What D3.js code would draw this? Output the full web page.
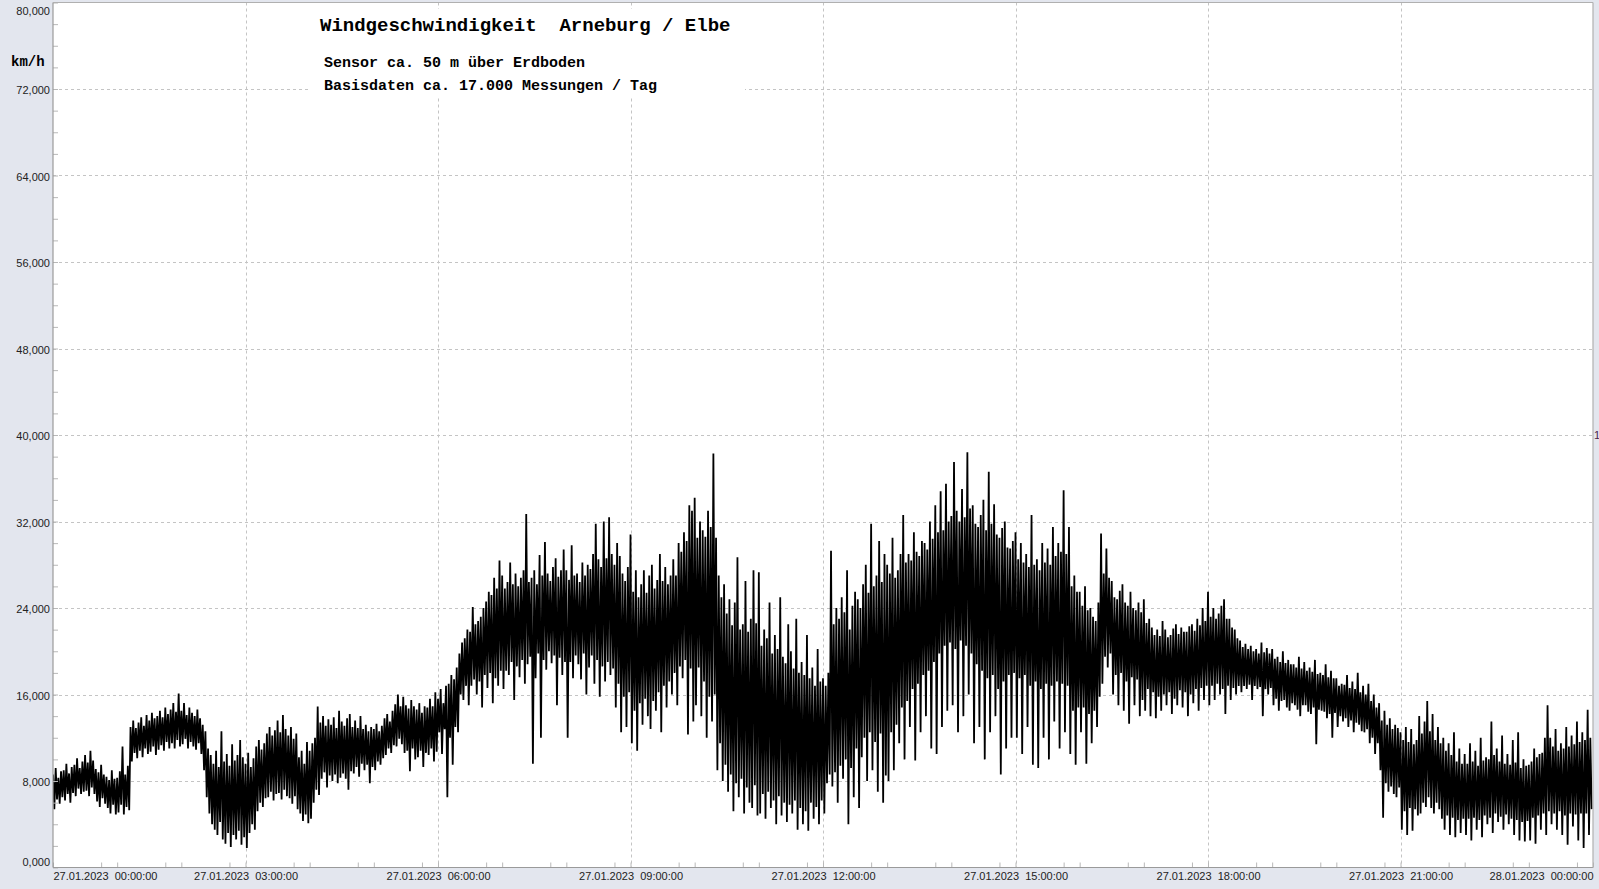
<!DOCTYPE html>
<html><head><meta charset="utf-8">
<script src="https://cdn.jsdelivr.net/npm/d3@7"></script>
<style>html,body{margin:0;padding:0;background:#e3e6ee;overflow:hidden}</style>
</head><body><svg id="c" width="1599" height="889"></svg>
<script>
// ---------- data ----------
const title = "Windgeschwindigkeit  Arneburg / Elbe";
const subtitles = ["Sensor ca. 50 m über Erdboden", "Basisdaten ca. 17.000 Messungen / Tag"];
const unitLabel = "km/h";
const rightLabel = "1";
const startTime = "2023-01-27T00:00:00Z";
const endTime = "2023-01-28T00:00:00Z";
const yTicks = [0, 8, 16, 24, 32, 40, 48, 56, 64, 72, 80];
const yMinorStep = 2;          // km/h
const xMajorHours = 3;
const xMinorMinutes = 45;
const binMinutes = 2.5;        // one max/min pair per 2.5 minutes

// maximum per 2.5-minute bin, km/h (one row = one hour)
const binMax = [
 8.6,9.2,8.3,8.9,9.0,9.6,8.7,9.3,9.5,10.1,9.2,9.8,10.4,9.7,10.8,9.9,9.1,8.8,9.5,8.6,8.4,8.1,9.0,8.2,
 8.3,8.9,11.2,8.6,9.4,13.0,13.6,12.9,13.4,13.9,13.1,14.1,13.6,14.3,13.8,14.0,14.5,13.9,14.8,14.2,14.6,15.2,14.4,16.1,
 14.5,15.2,14.1,14.8,14.3,14.0,14.6,13.8,13.2,12.6,11.0,10.4,9.6,10.8,9.3,12.6,9.8,10.5,9.4,11.4,9.9,10.4,11.8,10.2,
 9.6,10.6,9.3,10.1,11.2,11.8,10.9,11.5,12.4,13.0,12.2,12.7,13.6,12.5,14.1,12.8,12.2,13.0,11.9,12.4,10.2,10.8,9.6,11.6,
 10.8,11.5,12.0,14.9,13.4,14.0,13.1,13.7,13.2,13.9,12.9,14.5,13.5,13.1,13.8,14.2,13.0,13.6,12.9,14.0,12.8,13.2,12.6,13.0,
 12.8,13.3,12.6,13.1,13.8,14.2,13.5,14.5,15.1,16.0,14.9,15.8,15.0,14.7,15.5,14.9,14.6,15.2,14.3,14.9,14.8,15.6,14.9,16.2,
 15.6,16.5,15.2,16.8,17.0,17.8,17.4,18.5,19.8,20.8,21.2,22.0,21.8,24.1,22.5,22.8,23.2,24.0,24.6,25.5,25.2,26.8,25.8,28.4,
 27.0,25.8,26.4,28.2,26.2,27.2,26.0,26.8,27.5,32.7,26.4,26.8,27.5,26.2,28.9,27.0,30.1,27.2,26.5,27.8,28.6,26.9,27.5,29.4,
 27.5,26.6,29.8,27.0,27.2,26.4,28.2,27.0,28.0,27.6,29.0,31.8,28.5,27.8,32.0,28.6,32.4,29.0,28.0,30.0,28.8,27.2,26.5,27.8,
 30.8,25.5,27.5,25.0,26.2,27.5,25.4,27.0,28.0,25.8,26.6,29.0,26.5,27.8,26.2,27.0,28.5,27.0,30.0,29.2,31.0,30.2,33.5,33.0,
 34.2,30.5,32.0,31.2,30.6,33.0,31.5,38.3,30.5,27.0,25.0,26.2,23.5,24.8,22.4,24.5,28.7,22.0,22.5,26.5,21.8,23.0,27.5,22.6,
 27.3,20.5,22.0,21.2,24.5,19.8,21.5,20.2,25.0,19.5,18.9,22.5,20.0,18.4,23.0,18.0,19.0,17.8,21.5,17.5,18.5,16.8,20.2,17.2,
 17.5,16.8,18.0,29.3,22.5,24.0,23.0,25.0,23.6,27.5,22.0,24.2,25.5,24.8,24.0,26.2,28.0,25.4,31.8,26.0,27.0,30.2,26.4,29.0,
 28.0,27.2,30.5,26.8,27.5,29.0,32.6,28.2,29.0,28.4,31.0,29.2,28.8,30.2,30.0,29.4,32.0,30.4,33.5,31.0,34.8,31.2,35.5,32.0,
 32.5,37.5,33.0,32.0,35.0,32.4,38.4,33.2,33.5,31.8,31.5,32.6,34.0,31.2,36.6,31.8,33.6,30.8,30.5,31.4,32.0,29.6,29.5,30.2,
 31.0,28.5,30.0,28.2,29.0,27.8,32.6,28.0,28.5,27.5,30.0,28.2,29.5,28.0,31.5,28.8,30.0,29.2,34.9,29.0,31.5,26.0,27.0,25.5,
 25.5,24.2,26.0,23.8,24.0,23.2,22.8,24.5,30.9,27.2,29.5,26.8,26.5,25.0,24.8,25.6,26.2,24.5,24.2,25.5,24.0,23.8,24.5,23.6,
 24.8,22.6,23.0,22.2,21.5,22.0,21.4,22.8,22.0,21.3,21.5,22.1,22.5,21.6,22.2,21.8,21.8,22.3,22.5,21.9,23.0,22.4,24.0,22.8,
 25.5,23.2,24.0,23.0,23.5,24.2,24.8,23.0,23.0,22.2,22.0,21.2,21.0,20.4,20.7,20.2,20.5,20.0,20.2,19.8,20.8,19.9,20.3,19.8,
 20.2,19.3,19.5,19.0,20.0,18.9,19.2,18.8,18.8,18.5,19.5,18.4,19.0,18.2,18.5,18.1,19.2,17.9,18.0,17.8,18.8,17.6,18.2,17.5,
 17.5,16.8,17.0,16.9,17.8,16.6,17.2,16.5,18.0,16.2,16.8,16.0,17.0,15.4,16.0,14.8,15.2,13.6,14.5,13.2,13.8,12.8,13.2,12.9,
 12.5,11.8,13.0,11.6,12.8,11.4,11.8,14.0,12.4,13.5,15.4,12.6,14.2,11.8,13.0,11.5,12.0,10.8,11.5,10.4,12.5,9.8,11.0,9.6,
 10.5,9.6,11.5,9.8,10.8,9.4,12.0,9.9,10.2,10.0,13.5,10.4,11.0,9.8,12.2,9.6,10.5,9.5,11.8,9.7,12.5,9.2,10.0,9.4,
 9.5,9.8,11.0,10.2,10.5,10.6,12.0,15.0,12.0,11.2,12.8,10.8,11.5,11.0,13.0,11.2,12.2,11.4,13.5,11.6,12.5,11.8,14.6,12.0
];
// minimum per 2.5-minute bin, km/h (one row = one hour)
const binMin = [
 5.4,6.3,5.9,6.5,6.2,6.8,6.0,6.9,6.6,7.3,6.8,7.0,7.1,6.6,7.4,6.8,6.1,5.6,6.4,5.9,5.5,5.0,5.8,4.9,
 5.1,5.8,4.9,5.6,5.3,9.8,10.6,10.1,10.8,10.2,11.0,10.5,10.7,11.2,10.4,10.9,11.3,10.8,11.6,11.0,11.5,11.0,11.8,11.2,
 11.4,11.9,11.0,11.6,11.2,10.9,11.5,10.5,9.0,6.5,5.0,4.0,3.5,3.0,4.2,2.6,2.2,3.2,1.9,3.0,2.6,3.4,2.1,2.8,
 1.8,3.2,4.0,3.5,5.2,6.0,5.6,6.4,6.5,7.0,6.2,6.8,6.9,6.3,7.2,6.6,6.4,5.9,6.6,5.4,5.0,4.3,4.9,4.1,
 4.5,6.0,7.2,6.7,8.2,8.8,7.4,8.5,8.0,8.6,7.8,8.3,8.7,8.2,7.2,8.9,8.7,9.3,8.4,9.6,9.0,9.5,7.8,9.3,
 9.0,9.8,9.5,10.1,10.4,11.0,10.6,11.3,11.2,11.9,11.4,10.6,10.8,8.9,11.0,10.0,10.2,10.8,9.3,10.6,10.4,11.0,9.8,10.7,
 12.5,10.5,12.8,6.5,12.0,9.5,13.0,12.5,16.0,15.5,16.8,15.0,16.8,17.4,16.0,17.2,14.8,17.8,16.6,18.0,15.2,17.5,16.8,18.2,
 16.5,18.2,17.8,19.0,15.5,18.6,17.6,19.2,17.0,18.8,19.5,9.6,17.5,19.8,12.0,19.2,18.3,20.0,18.9,19.6,15.0,19.4,17.8,19.0,
 12.0,19.0,17.5,19.6,18.8,17.4,19.8,16.0,18.5,19.6,17.0,19.2,15.8,18.6,17.2,19.0,17.8,18.4,14.8,17.0,12.5,15.8,13.0,16.2,
 11.5,14.5,10.8,15.2,13.2,15.6,14.0,12.8,15.4,14.5,16.2,12.5,16.8,14.8,17.2,16.0,18.0,15.0,18.6,17.5,19.2,12.3,18.4,13.5,
 15.0,18.5,14.0,17.2,12.0,15.8,13.5,16.0,9.0,11.5,8.0,9.5,7.0,8.6,5.2,7.8,6.5,8.2,5.0,7.4,6.0,5.5,7.6,4.8,
 5.0,6.8,4.5,7.0,5.5,6.2,4.0,6.6,4.8,6.0,4.2,5.8,5.0,6.2,3.5,5.5,4.0,5.2,3.4,6.0,4.5,5.6,4.0,6.2,
 5.0,7.8,8.6,7.5,8.8,6.0,9.4,8.2,10.0,4.0,9.2,6.5,11.0,5.5,10.2,12.0,8.0,12.5,9.0,11.6,7.0,12.4,6.0,8.5,
 8.0,12.5,9.0,13.2,11.5,14.8,10.0,15.4,13.0,16.5,9.9,17.0,12.5,17.8,14.0,18.2,11.0,19.0,10.5,19.8,13.0,20.5,14.5,20.8,
 15.0,20.2,12.5,21.0,14.0,20.5,16.0,19.8,11.5,18.8,13.0,18.2,10.0,17.5,12.5,17.8,14.0,16.5,8.6,17.2,11.0,17.8,12.0,18.0,
 12.0,17.5,10.5,17.8,13.0,16.8,9.5,17.2,9.2,16.5,12.0,17.0,10.0,16.8,13.5,17.2,11.0,17.0,12.5,16.8,10.5,14.5,9.5,14.8,
 12.5,14.8,9.6,14.2,11.5,14.5,13.0,15.8,17.0,19.5,18.5,19.8,16.0,17.8,15.0,18.0,14.5,17.2,13.3,17.6,15.0,17.4,14.0,15.5,
 14.5,16.5,14.0,16.2,13.8,15.8,14.5,16.0,15.0,16.2,14.2,15.6,15.0,16.4,14.8,16.2,14.0,16.0,15.2,16.5,14.5,16.6,15.5,16.8,
 15.0,16.8,15.5,17.0,16.0,16.5,14.2,16.8,15.5,16.6,16.0,16.8,16.2,16.8,16.5,16.9,15.5,16.8,16.5,16.7,14.0,16.5,16.0,16.6,
 15.0,15.6,14.5,15.4,15.5,14.8,14.5,15.2,15.0,14.6,14.0,15.0,15.0,14.4,14.2,14.8,11.4,14.6,14.5,14.4,13.8,14.2,12.0,14.3,
 13.0,14.0,13.5,13.8,13.0,13.6,12.5,13.4,13.2,12.6,12.5,12.8,11.5,12.0,10.5,11.5,9.0,4.6,7.8,7.0,7.5,6.8,6.5,7.4,
 3.5,5.2,3.0,5.5,3.4,5.4,4.8,5.0,6.0,5.6,6.5,5.5,5.0,6.0,5.4,4.5,3.5,4.8,3.0,4.6,2.8,4.4,3.2,4.5,
 3.0,4.5,2.5,4.6,3.5,4.4,2.8,4.8,4.0,4.6,3.2,5.0,4.2,4.7,3.5,4.9,4.0,4.5,3.0,4.4,2.5,4.2,2.4,4.3,
 2.5,4.6,2.2,4.8,3.5,5.0,3.0,5.2,4.0,5.0,3.5,5.2,3.0,4.8,2.1,5.0,3.8,4.9,2.5,5.0,1.8,5.0,3.0,5.4
];

// ---------- chart ----------
const W = 1599, H = 889;
const M = {left: 53, right: 1593, top: 2.5, bottom: 867.5};
const svg = d3.select("#c");
const t0 = new Date(startTime), t1 = new Date(endTime);
const x = d3.scaleUtc().domain([t0, t1]).range([M.left, M.right]);
const y = d3.scaleLinear().domain([0, 80]).range([M.bottom, M.top]);
const minute = 60000;

svg.append("rect").attr("width", W).attr("height", H).attr("fill", "#e3e6ee");
svg.append("rect").attr("x", M.left).attr("y", M.top).attr("width", M.right - M.left)
   .attr("height", M.bottom - M.top).attr("fill", "#fff");

// grid
const grid = svg.append("g").attr("stroke", "#c4c4c4").attr("stroke-dasharray", "3,3").attr("stroke-width", 1);
grid.selectAll("line.h").data(yTicks.filter(v => v > 0 && v < 80)).join("line")
  .attr("x1", M.left).attr("x2", M.right)
  .attr("y1", d => Math.round(y(d)) + 0.5).attr("y2", d => Math.round(y(d)) + 0.5);
const majorTimes = d3.utcHour.every(xMajorHours).range(t0, new Date(+t1 + 1));
grid.selectAll("line.v").data(majorTimes.filter(d => +d > +t0 && +d < +t1)).join("line")
  .attr("y1", M.top).attr("y2", M.bottom)
  .attr("x1", d => Math.round(x(d)) + 0.5).attr("x2", d => Math.round(x(d)) + 0.5);

// data
const clipId = "plotclip";
svg.append("clipPath").attr("id", clipId).append("rect")
  .attr("x", M.left).attr("y", M.top).attr("width", M.right - M.left).attr("height", M.bottom - M.top);
const dataG = svg.append("g").attr("clip-path", `url(#${clipId})`);

const linePts = [];
binMax.forEach((h, i) => {
  linePts.push({t: new Date(+t0 + i * binMinutes * minute), v: h});
  linePts.push({t: new Date(+t0 + (i + 0.5) * binMinutes * minute), v: binMin[i]});
});
dataG.append("path").datum(linePts)
  .attr("fill", "none").attr("stroke", "#000").attr("stroke-width", 1.8)
  .attr("stroke-linejoin", "miter").attr("stroke-miterlimit", 1)
  .attr("d", d3.line().x(d => x(d.t)).y(d => y(d.v)));

// title box
svg.append("rect").attr("x", 308).attr("y", 9).attr("width", 437).attr("height", 87).attr("fill", "#fff");
svg.append("text").attr("x", 320).attr("y", 31)
  .attr("font-family", "'Liberation Mono','Courier New',monospace").attr("font-weight", "bold")
  .attr("font-size", 19).style("white-space", "pre").attr("fill", "#000").text(title);
svg.selectAll("text.sub").data(subtitles).join("text").attr("class", "sub")
  .attr("x", 324).attr("y", (d, i) => 66.5 + i * 23.5)
  .attr("font-family", "'Liberation Mono','Courier New',monospace").attr("font-weight", "bold")
  .attr("font-size", 15).style("white-space", "pre").attr("fill", "#000").text(d => d);
svg.append("text").attr("x", 11).attr("y", 66)
  .attr("font-family", "'Liberation Mono','Courier New',monospace").attr("font-weight", "bold")
  .attr("font-size", 14).attr("fill", "#000").text(unitLabel);

// y axis
const fmtY = v => d3.format(".3f")(v).replace(".", ",");
const yAxis = svg.append("g").attr("transform", `translate(${M.left},0)`)
  .call(d3.axisLeft(y).tickValues(yTicks).tickSize(0).tickPadding(3).tickFormat(fmtY));
yAxis.select(".domain").remove();
yAxis.selectAll("text").attr("font-family", "'Liberation Sans',Arial,sans-serif")
  .attr("font-size", 11).attr("fill", "#222")
  .attr("dy", d => d === 80 ? "1.05em" : d === 0 ? "-0.2em" : "0.45em");
const yMinor = d3.range(0, 80 + 0.001, yMinorStep);
const yMinorAxis = svg.append("g").attr("transform", `translate(${M.left},0)`)
  .call(d3.axisRight(y).tickValues(yMinor).tickSize(5).tickFormat(""));
yMinorAxis.select(".domain").remove();
yMinorAxis.selectAll("line").attr("stroke", "#b8b8b8");

// x axis
const fmtX = d3.utcFormat("%d.%m.%Y  %H:%M:%S");
const xAxis = svg.append("g").attr("transform", `translate(0,${M.bottom})`)
  .call(d3.axisBottom(x).tickValues(majorTimes).tickSize(0).tickPadding(5).tickFormat(fmtX));
xAxis.select(".domain").remove();
xAxis.selectAll("text").attr("font-family", "'Liberation Sans',Arial,sans-serif")
  .attr("font-size", 11).attr("fill", "#222").style("white-space", "pre")
  .attr("text-anchor", (d, i) => i === 0 ? "start" : i === majorTimes.length - 1 ? "end" : "middle");
const minorTimes = d3.utcMinute.every(xMinorMinutes).range(t0, new Date(+t1 + 1));
const xMinorAxis = svg.append("g").attr("transform", `translate(0,${M.bottom})`)
  .call(d3.axisTop(x).tickValues(minorTimes).tickSize(5).tickFormat(""));
xMinorAxis.select(".domain").remove();
xMinorAxis.selectAll("line").attr("stroke", "#b8b8b8");

// frame
const frame = svg.append("g").attr("stroke", "#9a9a9a").attr("stroke-width", 1.2).attr("fill", "none");
frame.append("line").attr("x1", M.left).attr("x2", M.left).attr("y1", M.top).attr("y2", M.bottom);
frame.append("line").attr("x1", M.left).attr("x2", M.right).attr("y1", M.bottom).attr("y2", M.bottom);
frame.append("line").attr("x1", M.left).attr("x2", M.right).attr("y1", M.top).attr("y2", M.top).attr("stroke", "#b0b0b0");
frame.append("line").attr("x1", M.right).attr("x2", M.right).attr("y1", M.top).attr("y2", M.bottom).attr("stroke", "#b0b0b0");

svg.append("text").attr("x", 1594).attr("y", y(40) + 4)
  .attr("font-family", "'Liberation Sans',Arial,sans-serif").attr("font-size", 11)
  .attr("fill", "#4b1f4b").text(rightLabel);
</script></body></html>
